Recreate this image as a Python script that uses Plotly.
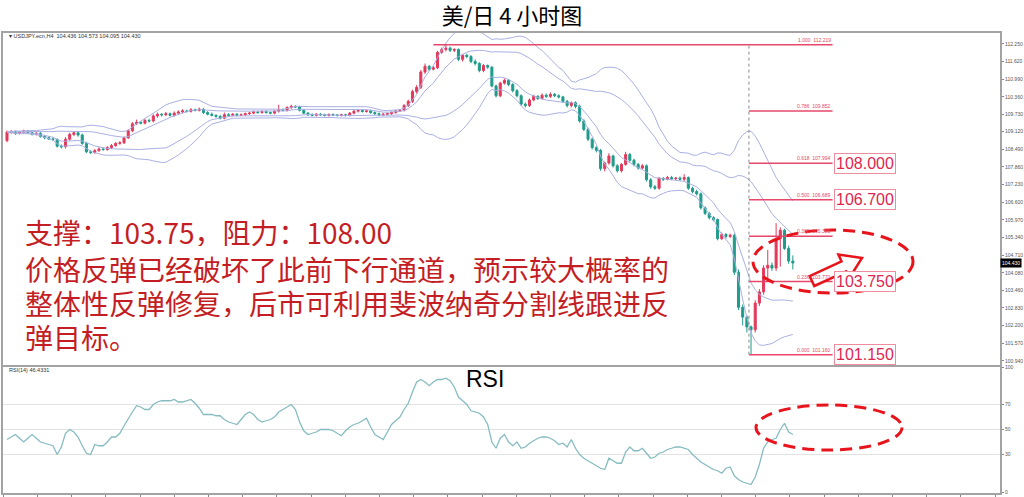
import math
import pandas as pd
import plotly.graph_objects as go

# ---------------- data ----------------
OPEN = [
    108.80, 109.10, 109.12, 109.06, 109.10, 109.14, 109.08, 109.03, 109.06, 108.95,
    108.90, 108.86, 108.84, 108.60, 108.58, 108.85, 109.02, 109.08, 109.00, 108.70,
    108.40, 108.38, 108.44, 108.50, 108.48, 108.55, 108.62, 108.70, 108.72, 108.90,
    109.15, 109.40, 109.45, 109.42, 109.52, 109.50, 109.68, 109.74, 109.72, 109.76,
    109.70, 109.78, 109.82, 109.86, 109.84, 109.90, 109.88, 109.92, 109.80, 109.74,
    109.70, 109.66, 109.60, 109.72, 109.70, 109.74, 109.70, 109.72, 109.76, 109.78,
    109.82, 109.80, 109.84, 109.80, 109.78, 109.85, 109.90, 109.88, 109.98, 110.02,
    110.00, 109.88, 109.78, 109.72, 109.70, 109.74, 109.72, 109.70, 109.73, 109.71,
    109.70, 109.72, 109.70, 109.78, 109.85, 109.88, 109.84, 109.86, 109.80, 109.76,
    109.72, 109.74, 109.76, 109.80, 109.86, 109.88, 110.05, 110.20, 110.55, 110.70,
    111.25, 111.45, 111.35, 111.40, 111.95, 112.05, 112.10, 112.02, 112.05, 111.70,
    111.85, 111.80, 111.62, 111.55, 111.30, 111.48, 111.42, 110.75, 110.40, 110.85,
    110.95, 110.80, 110.58, 110.40, 110.10, 110.05, 110.25, 110.38, 110.30, 110.42,
    110.38, 110.45, 110.40, 110.36, 110.20, 110.05, 110.15, 110.02, 109.50, 109.20,
    108.85, 108.55, 108.45, 107.80, 108.00, 108.25, 107.90, 107.72, 107.95, 108.30,
    108.10, 107.95, 107.82, 107.90, 107.40, 107.15, 107.10, 107.45, 107.42, 107.48,
    107.44, 107.46, 107.42, 107.48, 107.10, 106.98, 106.90, 106.40, 106.20, 106.05,
    105.98, 105.30, 105.45, 105.38, 105.42, 104.10, 102.85, 102.50, 102.15, 102.05,
    103.00, 103.40, 104.25, 104.35, 104.25, 105.30, 105.60, 104.95, 104.50,
]
HIGH = [
    109.16, 109.18, 109.16, 109.14, 109.19, 109.18, 109.12, 109.10, 109.10, 109.00,
    108.95, 108.92, 108.88, 108.66, 108.92, 109.08, 109.14, 109.12, 109.05, 108.76,
    108.46, 108.50, 108.56, 108.55, 108.60, 108.68, 108.75, 108.78, 108.95, 109.20,
    109.46, 109.55, 109.50, 109.58, 109.58, 109.74, 109.80, 109.78, 109.82, 109.80,
    109.84, 109.88, 109.92, 109.90, 109.96, 109.94, 109.98, 109.96, 109.85, 109.80,
    109.74, 109.72, 109.80, 109.78, 109.78, 109.78, 109.77, 109.80, 109.82, 109.87,
    109.86, 109.88, 109.88, 109.84, 109.90, 110.08, 109.95, 110.03, 110.08, 110.06,
    110.04, 109.92, 109.82, 109.77, 109.78, 109.78, 109.76, 109.77, 109.77, 109.75,
    109.76, 109.76, 109.82, 109.90, 109.93, 109.92, 109.90, 109.90, 109.84, 109.80,
    109.78, 109.80, 109.84, 109.90, 109.93, 110.10, 110.26, 110.62, 110.78, 111.32,
    111.55, 111.50, 111.46, 112.00, 112.12, 112.22, 112.15, 112.10, 112.09, 111.90,
    111.90, 111.85, 111.70, 111.60, 111.53, 111.52, 111.46, 110.80, 110.90, 111.02,
    111.00, 110.85, 110.64, 110.45, 110.16, 110.30, 110.44, 110.42, 110.48, 110.48,
    110.52, 110.50, 110.45, 110.40, 110.25, 110.20, 110.20, 110.08, 109.56, 109.26,
    108.90, 108.60, 108.50, 108.05, 108.35, 108.30, 107.96, 108.00, 108.40, 108.36,
    108.15, 108.00, 107.96, 107.95, 107.46, 107.22, 107.50, 107.50, 107.54, 107.54,
    107.50, 107.52, 107.60, 107.52, 107.15, 107.05, 106.95, 106.45, 106.26, 106.10,
    106.02, 105.52, 105.50, 105.48, 105.48, 104.20, 102.95, 102.56, 102.20, 103.10,
    103.50, 104.35, 104.90, 104.45, 105.85, 105.70, 105.65, 105.05, 104.70,
]
LOW = [
    108.74, 109.04, 109.00, 109.02, 109.05, 109.03, 108.98, 108.98, 108.90, 108.85,
    108.82, 108.78, 108.55, 108.52, 108.52, 108.80, 108.96, 108.94, 108.65, 108.35,
    108.32, 108.33, 108.40, 108.44, 108.44, 108.50, 108.58, 108.65, 108.68, 108.86,
    109.10, 109.35, 109.38, 109.38, 109.45, 109.45, 109.62, 109.66, 109.68, 109.66,
    109.66, 109.74, 109.78, 109.80, 109.80, 109.84, 109.84, 109.75, 109.70, 109.66,
    109.62, 109.55, 109.56, 109.66, 109.66, 109.66, 109.67, 109.68, 109.72, 109.74,
    109.76, 109.76, 109.76, 109.74, 109.74, 109.80, 109.84, 109.84, 109.92, 109.96,
    109.84, 109.74, 109.68, 109.66, 109.66, 109.68, 109.66, 109.66, 109.68, 109.66,
    109.66, 109.66, 109.66, 109.74, 109.80, 109.80, 109.80, 109.76, 109.72, 109.68,
    109.68, 109.70, 109.72, 109.76, 109.82, 109.84, 110.00, 110.14, 110.48, 110.64,
    111.18, 111.28, 111.30, 111.35, 111.90, 111.98, 111.96, 111.96, 111.64, 111.62,
    111.74, 111.56, 111.48, 111.24, 111.24, 111.36, 110.70, 110.34, 110.35, 110.80,
    110.74, 110.52, 110.34, 110.04, 109.98, 110.00, 110.20, 110.25, 110.26, 110.32,
    110.32, 110.35, 110.30, 110.14, 109.98, 109.98, 109.95, 109.44, 109.14, 108.78,
    108.48, 108.38, 107.72, 107.70, 107.94, 107.84, 107.66, 107.66, 107.90, 108.04,
    107.88, 107.76, 107.76, 107.34, 107.08, 107.04, 107.05, 107.36, 107.38, 107.38,
    107.38, 107.36, 107.36, 107.04, 106.92, 106.84, 106.34, 106.14, 105.98, 105.92,
    105.24, 105.25, 105.30, 105.32, 104.00, 102.75, 102.20, 101.95, 101.18, 101.95,
    102.90, 103.30, 103.80, 104.15, 104.15, 104.30, 104.90, 104.40, 104.20,
]
CLOSE = [
    109.10, 109.12, 109.06, 109.10, 109.14, 109.08, 109.03, 109.06, 108.95, 108.90,
    108.86, 108.84, 108.60, 108.58, 108.85, 109.02, 109.08, 109.00, 108.70, 108.40,
    108.38, 108.44, 108.50, 108.48, 108.55, 108.62, 108.70, 108.72, 108.90, 109.15,
    109.40, 109.45, 109.42, 109.52, 109.50, 109.68, 109.74, 109.72, 109.76, 109.70,
    109.78, 109.82, 109.86, 109.84, 109.90, 109.88, 109.92, 109.80, 109.74, 109.70,
    109.66, 109.60, 109.72, 109.70, 109.74, 109.70, 109.72, 109.76, 109.78, 109.82,
    109.80, 109.84, 109.80, 109.78, 109.85, 109.90, 109.88, 109.98, 110.02, 110.00,
    109.88, 109.78, 109.72, 109.70, 109.74, 109.72, 109.70, 109.73, 109.71, 109.70,
    109.72, 109.70, 109.78, 109.85, 109.88, 109.84, 109.86, 109.80, 109.76, 109.72,
    109.74, 109.76, 109.80, 109.86, 109.88, 110.05, 110.20, 110.55, 110.70, 111.25,
    111.45, 111.35, 111.40, 111.95, 112.05, 112.10, 112.02, 112.05, 111.70, 111.85,
    111.80, 111.62, 111.55, 111.30, 111.48, 111.42, 110.75, 110.40, 110.85, 110.95,
    110.80, 110.58, 110.40, 110.10, 110.05, 110.25, 110.38, 110.30, 110.42, 110.38,
    110.45, 110.40, 110.36, 110.20, 110.05, 110.15, 110.02, 109.50, 109.20, 108.85,
    108.55, 108.45, 107.80, 108.00, 108.25, 107.90, 107.72, 107.95, 108.30, 108.10,
    107.95, 107.82, 107.90, 107.40, 107.15, 107.10, 107.45, 107.42, 107.48, 107.44,
    107.46, 107.42, 107.48, 107.10, 106.98, 106.90, 106.40, 106.20, 106.05, 105.98,
    105.30, 105.45, 105.38, 105.42, 104.10, 102.85, 102.50, 102.15, 102.05, 103.00,
    103.40, 104.25, 104.35, 104.25, 105.30, 105.60, 104.95, 104.50, 104.43,
]
RSI = [
    42, 44, 46, 43, 40, 43, 46, 43, 40, 39,
    38, 37, 30, 36, 47, 50, 48, 44, 37, 31,
    30, 38, 37, 37, 40, 44, 44, 47, 53, 59,
    64, 69, 68, 66, 66, 70, 72, 73, 73, 73,
    74, 72, 72, 73, 74, 71, 67, 62, 62, 62,
    61, 61, 58, 56, 55, 54, 58, 62, 64, 62,
    58, 56, 57, 58, 60, 64, 66, 68, 70, 66,
    56, 49, 46, 47, 48, 50, 50, 50, 49, 47,
    45, 49, 52, 54, 55, 57, 59, 52, 46, 44,
    42, 48, 54, 57, 60, 66, 71, 80, 88, 90,
    88, 85, 88, 90, 90, 91, 89, 84, 76, 73,
    70, 65, 64, 63, 60, 54, 40, 35, 43, 46,
    40, 37, 40, 35, 36, 39, 41, 43, 44, 44,
    43, 41, 38, 39, 36, 42, 35, 30, 27, 25,
    23, 21, 19, 18, 27, 25, 23, 23, 32, 36,
    33, 33, 35, 31, 27, 28, 31, 32, 34, 35,
    36, 36, 35, 34, 30, 27, 24, 22, 20, 18,
    17, 15, 19, 20, 13, 10, 8, 7, 6, 12,
    22, 35, 40, 42, 43, 50, 55, 48, 46,
]
Y_TICKS = [112.250, 111.620, 110.990, 110.360, 109.730, 109.120, 108.490, 107.860,
           107.230, 106.600, 105.970, 105.340, 104.710, 104.080, 103.460, 102.830,
           102.200, 101.570, 100.940]
RSI_LEVELS = [70, 50, 30]
RSI_TICKS = [0, 30, 50, 70, 100]
FIB_HIGH = 112.219
FIB_LOW = 101.16
FIB_RATIOS = [1.0, 0.786, 0.618, 0.5, 0.382, 0.236, 0.0]
BOX_LABELS = {0.618: "108.000", 0.5: "106.700", 0.236: "103.750", 0.0: "101.150"}
LAST_PRICE = 104.430
RSI_LAST = 46.4331
TITLE = "美/日 4 小时图"
NOTE_LINES = ["支撑：103.75，阻力：108.00",
              "价格反弹已经破坏了此前下行通道，预示较大概率的",
              "整体性反弹修复，后市可利用斐波纳奇分割线跟进反",
              "弹目标。"]

# ---------------- layout helpers ----------------
W, H = 1024, 497
ML, MR, MT, MB = 3, 24, 33, 4
PW, PH = W - ML - MR, H - MT - MB


def pxx(p):
    return (p - ML) / PW


def pxy(p):
    return (H - MB - p) / PH


X_PX0, X_STEP = 7.0, 4.18


def idx_at(px):
    return (px - X_PX0) / X_STEP


XR = [idx_at(ML), idx_at(W - MR)]
X = list(range(len(CLOSE)))

UP, DOWN = "#e23a5c", "#1f9c8a"
FIBC = "#e6476a"
BAND = "#aab0e2"
FRAME = "#a3a3a3"
RED = "#e8141c"

close = pd.Series(CLOSE)
mid = close.rolling(20, min_periods=1).mean()
sd = close.rolling(20, min_periods=1).std(ddof=0).fillna(0)

fig = go.Figure()
for k in (2, 1, -1, -2):
    fig.add_trace(go.Scatter(x=X, y=mid + k * sd, mode="lines",
                             line=dict(color=BAND, width=1), hoverinfo="skip",
                             xaxis="x", yaxis="y"))
fig.add_trace(go.Candlestick(
    x=X, open=OPEN, high=HIGH, low=LOW, close=CLOSE,
    increasing=dict(line=dict(color=UP, width=1), fillcolor=UP),
    decreasing=dict(line=dict(color=DOWN, width=1), fillcolor=DOWN),
    whiskerwidth=0, xaxis="x", yaxis="y"))
fig.add_trace(go.Scatter(x=X, y=RSI, mode="lines",
                         line=dict(color="#86bcc0", width=1.3),
                         xaxis="x2", yaxis="y2", hoverinfo="skip"))

shapes = []
for lv in RSI_LEVELS:
    shapes.append(dict(type="line", xref="paper", yref="y2", x0=0, x1=1, y0=lv, y1=lv,
                       line=dict(color="#e2e2e2", width=1), layer="below"))

annotations = []
FIB_START_TOP, FIB_START, FIB_END = 102.0, 177.5, 197.5
for r in FIB_RATIOS:
    price = FIB_LOW + r * (FIB_HIGH - FIB_LOW)
    x0 = FIB_START_TOP if r == 1.0 else FIB_START
    shapes.append(dict(type="line", xref="x", yref="y", x0=x0, x1=FIB_END,
                       y0=price, y1=price, line=dict(color=FIBC, width=1.5)))
    annotations.append(dict(x=FIB_END, y=price, xref="x", yref="y", xanchor="right",
                            yanchor="bottom", showarrow=False,
                            text=f"{r:.3f}  {price:.3f}",
                            font=dict(size=5, color=FIBC, family="Liberation Sans")))
    if r in BOX_LABELS:
        annotations.append(dict(x=197.8, y=price, xref="x", yref="y", xanchor="left",
                                yanchor="middle", showarrow=False, text=BOX_LABELS[r],
                                font=dict(size=16, color="#e0264f", family="Liberation Sans"),
                                bordercolor="#f08ca0", borderwidth=1, borderpad=1,
                                bgcolor="white"))
shapes.append(dict(type="line", xref="x", yref="y", x0=FIB_START, x1=FIB_START,
                   y0=FIB_LOW, y1=FIB_HIGH, line=dict(color="#8a8a8a", width=1, dash="dot")))

# red dashed ellipses
shapes.append(dict(type="circle", xref="paper", yref="paper",
                   x0=pxx(753), x1=pxx(913), y0=pxy(293), y1=pxy(230),
                   line=dict(color=RED, width=3, dash="12px,7px")))
shapes.append(dict(type="circle", xref="paper", yref="paper",
                   x0=pxx(756), x1=pxx(902), y0=pxy(450), y1=pxy(405),
                   line=dict(color=RED, width=3, dash="12px,7px")))

# hollow red arrow
tail, tip = (812.0, 281.0), (862.0, 258.0)
dx, dy = tip[0] - tail[0], tip[1] - tail[1]
L = math.hypot(dx, dy)
ux, uy = dx / L, dy / L
nx, ny = -uy, ux
bx, by = tip[0] - 20 * ux, tip[1] - 20 * uy
pts = [(tail[0] + 5.5 * nx, tail[1] + 5.5 * ny), (bx + 5.5 * nx, by + 5.5 * ny),
       (bx + 13 * nx, by + 13 * ny), tip, (bx - 13 * nx, by - 13 * ny),
       (bx - 5.5 * nx, by - 5.5 * ny), (tail[0] - 5.5 * nx, tail[1] - 5.5 * ny)]
path = "M " + " L ".join(f"{pxx(a):.5f},{pxy(b):.5f}" for a, b in pts) + " Z"
shapes.append(dict(type="path", xref="paper", yref="paper", path=path,
                   fillcolor="white", line=dict(color=RED, width=2.5)))

# texts
note_y = [232, 269, 303, 337]
for t, yy in zip(NOTE_LINES, note_y):
    annotations.append(dict(x=pxx(25), y=pxy(yy), xref="paper", yref="paper",
                            xanchor="left", yanchor="middle", showarrow=False, text=t,
                            height=28, valign="middle", borderpad=0, borderwidth=0,
                            font=dict(size=28, color="#c41e24", family="Noto Sans CJK SC")))
annotations.append(dict(x=pxx(7), y=pxy(36), xref="paper", yref="paper", xanchor="left",
                        yanchor="middle", showarrow=False,
                        text="▾ USDJPY.ecn,H4  104.436 104.573 104.095 104.430",
                        font=dict(size=5.5, color="#333333", family="Liberation Sans")))
annotations.append(dict(x=pxx(7), y=pxy(370), xref="paper", yref="paper", xanchor="left",
                        yanchor="middle", showarrow=False, text=f"RSI(14) {RSI_LAST}",
                        font=dict(size=5.5, color="#333333", family="Liberation Sans")))
annotations.append(dict(x=pxx(485), y=pxy(379), xref="paper", yref="paper",
                        xanchor="center", yanchor="middle", showarrow=False, text="RSI",
                        font=dict(size=23, color="black", family="Liberation Sans")))
annotations.append(dict(x=1, y=LAST_PRICE, xref="paper", yref="y", xanchor="left",
                        yanchor="middle", showarrow=False, text=f"{LAST_PRICE:.3f}",
                        bgcolor="black", borderpad=1,
                        font=dict(size=5, color="white", family="Liberation Sans")))

axis_common = dict(showline=True, linecolor=FRAME, linewidth=2, mirror=True,
                   showgrid=False, zeroline=False)
fig.update_layout(
    width=W, height=H, margin=dict(l=ML, r=MR, t=MT, b=MB, autoexpand=False),
    paper_bgcolor="white", plot_bgcolor="white", showlegend=False,
    title=dict(text=TITLE, x=0.5, xanchor="center", xref="container",
               y=1 - 16 / H, yanchor="middle", yref="container",
               font=dict(size=22, color="black", family="Noto Sans CJK SC")),
    xaxis=dict(domain=[0, 1], range=XR, anchor="y", showticklabels=False, ticks="",
               rangeslider=dict(visible=False), **axis_common),
    yaxis=dict(domain=[pxy(365), 1], range=[100.79, 112.64], side="right",
               tickmode="array", tickvals=Y_TICKS, ticktext=[f"{v:.3f}" for v in Y_TICKS],
               ticks="outside", ticklen=2, tickcolor="#888888",
               tickfont=dict(size=5, color="#555555", family="Liberation Sans"),
               **axis_common),
    xaxis2=dict(domain=[0, 1], range=XR, anchor="y2", matches="x", showticklabels=False,
                ticks="outside", ticklen=3, tickcolor="#888888", tickmode="linear",
                tick0=idx_at(3.3), dtick=34.2 / X_STEP, **axis_common),
    yaxis2=dict(domain=[0, pxy(367)], range=[-0.8, 100], side="right", tickmode="array",
                tickvals=RSI_TICKS, ticks="outside", ticklen=2, tickcolor="#888888",
                tickfont=dict(size=5, color="#555555", family="Liberation Sans"),
                **axis_common),
    shapes=shapes, annotations=annotations,
)

fig.write_html(
    "out.html",
    config={"displayModeBar": False},
    post_script="document.body.style.margin='0';document.body.style.padding='0';"
                "document.body.style.overflow='hidden';",
)
